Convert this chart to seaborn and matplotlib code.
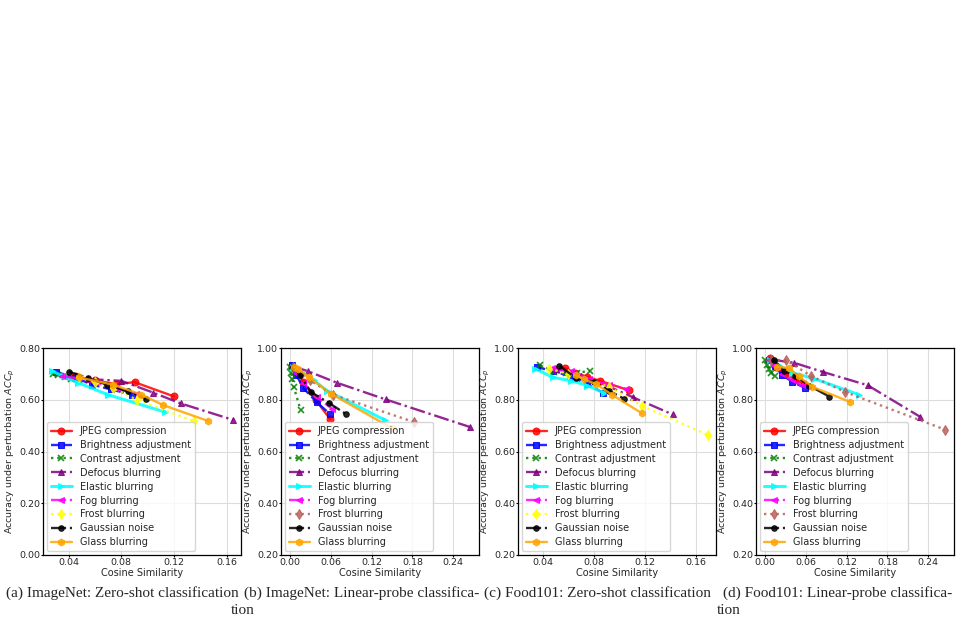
import matplotlib
matplotlib.use("Agg")
import matplotlib.pyplot as plt
from matplotlib.ticker import FormatStrFormatter
import seaborn as sns

sns.set_style("whitegrid", {"axes.edgecolor": "black", "xtick.bottom": True, "ytick.left": True,
                            "grid.color": "#dddddd"})
plt.rcParams["font.family"] = ["DejaVu Sans"]

# perturbation types (legend order)
names = ["JPEG compression", "Brightness adjustment", "Contrast adjustment", "Defocus blurring",
         "Elastic blurring", "Fog blurring", "Frost blurring", "Gaussian noise", "Glass blurring"]

# (a) ImageNet zero-shot: cosine similarity / accuracy per perturbation, severity 1..5
imagenet_zs_cos = [
    [0.045, 0.060, 0.076, 0.090, 0.120],
    [0.030, 0.045, 0.058, 0.072, 0.088],
    [0.028, 0.032, 0.037, 0.042, 0.048],
    [0.055, 0.080, 0.104, 0.125, 0.165],
    [0.027, 0.036, 0.047, 0.070, 0.113],
    [0.035, 0.046, 0.060, 0.075, 0.091],
    [0.048, 0.060, 0.074, 0.092, 0.135],
    [0.040, 0.055, 0.069, 0.085, 0.099],
    [0.048, 0.074, 0.095, 0.112, 0.146],
]
imagenet_zs_acc = [
    [0.690, 0.675, 0.660, 0.668, 0.613],
    [0.708, 0.685, 0.658, 0.640, 0.620],
    [0.698, 0.694, 0.688, 0.682, 0.676],
    [0.680, 0.673, 0.628, 0.586, 0.522],
    [0.712, 0.690, 0.666, 0.619, 0.553],
    [0.690, 0.684, 0.667, 0.645, 0.624],
    [0.686, 0.668, 0.645, 0.599, 0.518],
    [0.708, 0.684, 0.658, 0.632, 0.604],
    [0.686, 0.658, 0.620, 0.579, 0.518],
]

# (b) ImageNet linear-probe
imagenet_lp_cos = [
    [0.004, 0.010, 0.020, 0.038, 0.059],
    [0.003, 0.010, 0.020, 0.040, 0.059],
    [0.001, 0.002, 0.004, 0.006, 0.016],
    [0.004, 0.027, 0.070, 0.141, 0.264],
    [0.005, 0.018, 0.035, 0.055, 0.140],
    [0.004, 0.010, 0.020, 0.040, 0.062],
    [0.005, 0.015, 0.030, 0.063, 0.182],
    [0.005, 0.015, 0.031, 0.058, 0.083],
    [0.006, 0.012, 0.029, 0.060, 0.150],
]
imagenet_lp_acc = [
    [0.930, 0.905, 0.870, 0.800, 0.726],
    [0.935, 0.895, 0.845, 0.790, 0.745],
    [0.925, 0.905, 0.880, 0.850, 0.760],
    [0.930, 0.910, 0.865, 0.801, 0.695],
    [0.925, 0.905, 0.875, 0.835, 0.721],
    [0.930, 0.905, 0.865, 0.810, 0.765],
    [0.925, 0.900, 0.875, 0.820, 0.714],
    [0.928, 0.896, 0.830, 0.787, 0.744],
    [0.928, 0.920, 0.886, 0.824, 0.690],
]

# (c) Food101 zero-shot
food_zs_cos = [
    [0.057, 0.065, 0.075, 0.085, 0.108],
    [0.035, 0.048, 0.061, 0.075, 0.087],
    [0.038, 0.049, 0.058, 0.067, 0.077],
    [0.050, 0.070, 0.090, 0.111, 0.142],
    [0.034, 0.048, 0.062, 0.075, 0.088],
    [0.047, 0.062, 0.076, 0.092, 0.105],
    [0.045, 0.060, 0.092, 0.118, 0.170],
    [0.053, 0.066, 0.080, 0.092, 0.104],
    [0.066, 0.072, 0.082, 0.094, 0.118],
]
food_zs_acc = [
    [0.923, 0.905, 0.888, 0.873, 0.836],
    [0.927, 0.910, 0.892, 0.860, 0.828],
    [0.933, 0.907, 0.902, 0.905, 0.911],
    [0.920, 0.890, 0.855, 0.809, 0.743],
    [0.920, 0.886, 0.874, 0.855, 0.826],
    [0.923, 0.910, 0.880, 0.858, 0.843],
    [0.920, 0.900, 0.850, 0.776, 0.663],
    [0.931, 0.884, 0.869, 0.835, 0.803],
    [0.894, 0.880, 0.860, 0.820, 0.747],
]

# (d) Food101 linear-probe
food_lp_cos = [
    [0.008, 0.016, 0.030, 0.045, 0.057],
    [0.007, 0.015, 0.025, 0.040, 0.059],
    [0.001, 0.003, 0.007, 0.010, 0.015],
    [0.010, 0.043, 0.086, 0.151, 0.228],
    [0.008, 0.020, 0.040, 0.072, 0.138],
    [0.006, 0.012, 0.025, 0.040, 0.055],
    [0.010, 0.032, 0.068, 0.118, 0.264],
    [0.013, 0.028, 0.045, 0.065, 0.095],
    [0.018, 0.036, 0.050, 0.070, 0.125],
]
food_lp_acc = [
    [0.960, 0.927, 0.900, 0.878, 0.862],
    [0.955, 0.930, 0.897, 0.870, 0.846],
    [0.952, 0.935, 0.920, 0.905, 0.892],
    [0.955, 0.943, 0.907, 0.856, 0.734],
    [0.955, 0.935, 0.905, 0.882, 0.820],
    [0.952, 0.935, 0.900, 0.875, 0.856],
    [0.955, 0.952, 0.892, 0.830, 0.685],
    [0.955, 0.912, 0.893, 0.855, 0.812],
    [0.928, 0.922, 0.890, 0.850, 0.792],
]

captions = ["(a) ImageNet: Zero-shot classification", "(b) ImageNet: Linear-probe classifica-",
            "(c) Food101: Zero-shot classification", "(d) Food101: Linear-probe classifica-"]

colors = ["red", "blue", "green", "purple", "cyan", "magenta", "yellow", "black", "orange"]
styles = ["-", "--", ":", "-.", "-", "-.", ":", "-.", "-"]
markers = ["o", "s", "x", "^", ">", "<", "d", "o", "h"]
frost_brown = "#b8605a"

fig = plt.figure(figsize=(9.66, 6.24), dpi=100)
W, H = 966, 624
lefts = [43, 281, 518, 756]
panels = [(imagenet_zs_cos, imagenet_zs_acc), (imagenet_lp_cos, imagenet_lp_acc),
          (food_zs_cos, food_zs_acc), (food_lp_cos, food_lp_acc)]
xlims = [(0.0204, 0.171), (-0.0127, 0.2776), (0.0204, 0.176), (-0.0127, 0.2776)]
xticks = [[0.04, 0.08, 0.12, 0.16], [0.0, 0.06, 0.12, 0.18, 0.24],
          [0.04, 0.08, 0.12, 0.16], [0.0, 0.06, 0.12, 0.18, 0.24]]

for k, (cos, acc) in enumerate(panels):
    ax = fig.add_axes([lefts[k] / W, 1 - 555 / H, 198 / W, 207 / H])
    for i, name in enumerate(names):
        c = colors[i]
        if i == 6 and k in (1, 3):
            c = frost_brown
        ms = 4 if i == 7 else 5
        lw = 2.2 if i == 4 else 1.7
        sns.lineplot(x=cos[i], y=acc[i], ax=ax, sort=False, color=c, linestyle=styles[i],
                     marker=markers[i], markersize=ms, markeredgecolor=c, alpha=0.85,
                     markeredgewidth=1.2 if i == 2 else 0.75, linewidth=lw, label=name)
    ax.set_xlim(*xlims[k])
    ax.set_xticks(xticks[k])
    if k == 0:
        ax.set_ylim(0.0, 0.8)
        ax.set_yticks([0.0, 0.2, 0.4, 0.6, 0.8])
    else:
        ax.set_ylim(0.2, 1.0)
        ax.set_yticks([0.2, 0.4, 0.6, 0.8, 1.0])
    ax.xaxis.set_major_formatter(FormatStrFormatter("%.2f"))
    ax.yaxis.set_major_formatter(FormatStrFormatter("%.2f"))
    ax.tick_params(labelsize=6.8, length=1.6, width=0.8, pad=0.6, color="black")
    ax.set_xlabel("Cosine Similarity", fontsize=7, labelpad=1)
    ax.set_ylabel("Accuracy under perturbation $ACC_p$", fontsize=6.8)
    ax.yaxis.set_label_coords(-0.133, 0.5)
    ax.grid(True, color="#dddddd", linewidth=0.8)
    for s in ax.spines.values():
        s.set_color("black")
        s.set_linewidth(0.9)
    ax.legend(loc="lower left", fontsize=7, handlelength=2.2, labelspacing=0.4,
              borderaxespad=0.4, framealpha=0.8, edgecolor="#cccccc")

cap_x = [122, 362, 598, 838]
for k, t in enumerate(captions):
    fig.text(cap_x[k] / W, 1 - 593 / H, t, ha="center", va="center", fontsize=11.0,
             family="Liberation Serif")
for x in (243, 729):
    fig.text(x / W, 1 - 611 / H, "tion", ha="center", va="center", fontsize=11.0,
             family="Liberation Serif")

fig.savefig("out.png", dpi=100)
